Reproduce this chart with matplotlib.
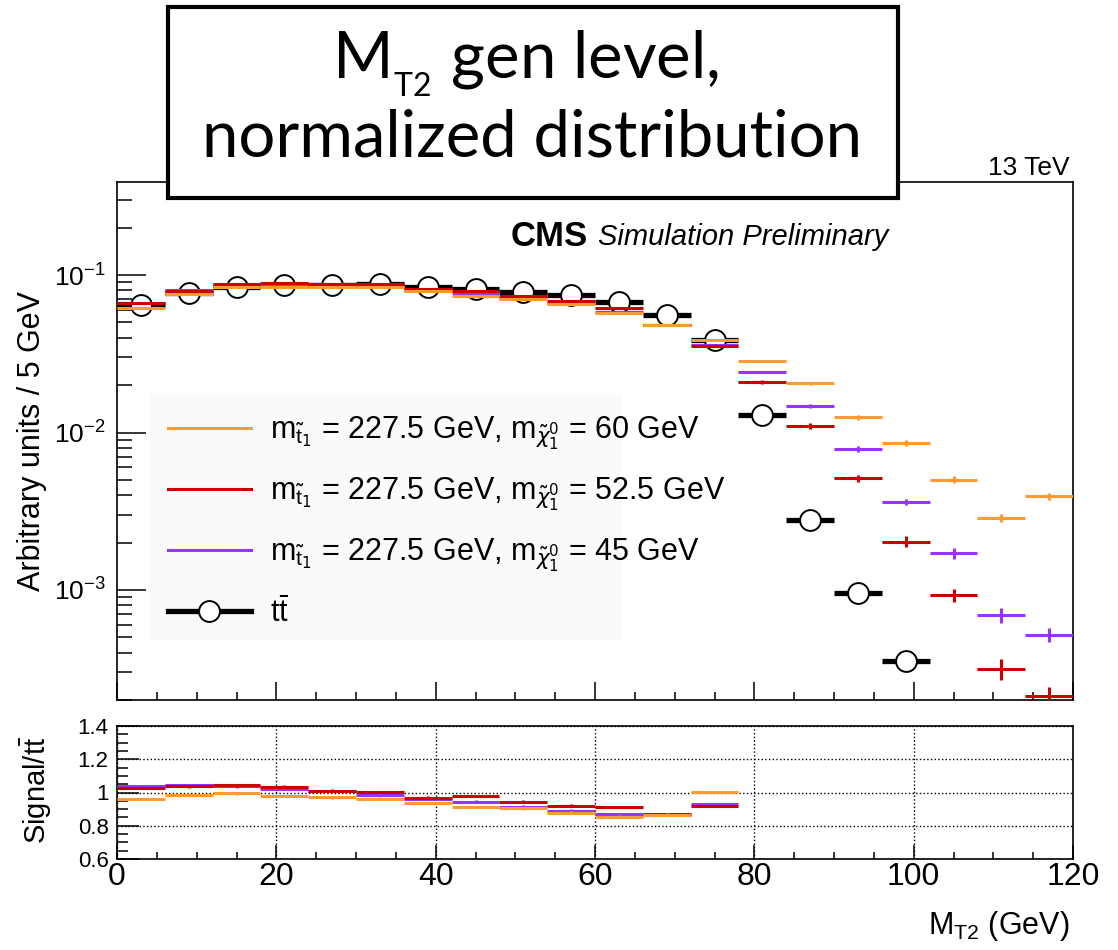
import numpy as np
import matplotlib.pyplot as plt
from matplotlib.lines import Line2D
from matplotlib.patches import Rectangle
from matplotlib.ticker import MultipleLocator, LogLocator, NullFormatter

plt.rcParams['font.family'] = ['Liberation Sans', 'DejaVu Sans']
plt.rcParams['mathtext.fontset'] = 'dejavusans'

# 6 GeV bins from 0 to 120
bin_edges = [0, 6, 12, 18, 24, 30, 36, 42, 48, 54, 60, 66, 72, 78, 84, 90, 96, 102, 108, 114, 120]

# ttbar (only bins with entries in range)
tt_vals = [0.0645, 0.0768, 0.084, 0.0864, 0.087, 0.0877, 0.0843, 0.081, 0.078, 0.0746,
           0.0674, 0.0557, 0.0387, 0.0129, 0.00278, 0.000953, 0.000354]

# signals, m_stop = 227.5 GeV
sig60 = [0.0619, 0.0757, 0.0835, 0.0845, 0.0844, 0.0844, 0.0790, 0.0739, 0.0705, 0.0655,
         0.0576, 0.0482, 0.0389, 0.0285, 0.0205, 0.01247, 0.0086, 0.00501, 0.00288, 0.00394]
sig525 = [0.0664, 0.0796, 0.0876, 0.0894, 0.0880, 0.0881, 0.0816, 0.0792, 0.0737, 0.0686,
          0.0615, 0.0483, 0.0356, 0.0209, 0.0110, 0.00512, 0.00203, 0.000925, 0.000315, 0.000213]
sig45 = [0.0669, 0.0803, 0.0871, 0.0882, 0.0879, 0.0865, 0.0809, 0.0765, 0.0714, 0.0664,
         0.0586, 0.0482, 0.0360, 0.0242, 0.0147, 0.00789, 0.00362, 0.00172, 0.000693, 0.000518]

# relative stat. uncertainties
sig60_rel = [0.01, 0.01, 0.01, 0.01, 0.01, 0.01, 0.01, 0.01, 0.01, 0.01,
             0.01, 0.01, 0.015, 0.02, 0.025, 0.04, 0.04, 0.05, 0.06, 0.05]
sig525_rel = [0.01, 0.01, 0.01, 0.01, 0.01, 0.01, 0.01, 0.01, 0.01, 0.01,
              0.01, 0.015, 0.02, 0.03, 0.04, 0.05, 0.08, 0.09, 0.15, 0.13]
sig45_rel = [0.01, 0.01, 0.01, 0.01, 0.01, 0.01, 0.01, 0.01, 0.01, 0.01,
             0.01, 0.015, 0.02, 0.02, 0.03, 0.04, 0.05, 0.08, 0.11, 0.10]

# ratio signal / ttbar (first 13 bins)
ratio60 = [0.96, 0.986, 0.994, 0.978, 0.97, 0.962, 0.937, 0.912, 0.904, 0.878, 0.855, 0.866, 1.004]
ratio525 = [1.029, 1.037, 1.043, 1.035, 1.012, 1.004, 0.968, 0.978, 0.945, 0.92, 0.912, 0.868, 0.919]
ratio45 = [1.037, 1.045, 1.037, 1.021, 1.01, 0.986, 0.96, 0.945, 0.915, 0.89, 0.87, 0.866, 0.931]
ratio_err = 0.008

c60, c525, c45 = '#ff9933', '#cc0000', '#9933ff'

edges = np.array(bin_edges)
centers = 0.5 * (edges[1:] + edges[:-1])
halfw = 0.5 * np.diff(edges)

W, H = 1118, 950
fig = plt.figure(figsize=(W / 100, H / 100), dpi=100)

def box(l, t, r, b):
    return [l / W, 1 - b / H, (r - l) / W, (b - t) / H]

ax = fig.add_axes(box(117, 182, 1073, 700))
rax = fig.add_axes(box(117, 726, 1073, 859))

# main panel
n = len(tt_vals)
ax.errorbar(centers[:n], tt_vals, xerr=halfw[:n], fmt='o', color='black', elinewidth=3.8,
            ms=15, mfc='white', mec='black', mew=1.4, capsize=0, zorder=2)
for vals, rel, c in [(sig45, sig45_rel, c45), (sig525, sig525_rel, c525), (sig60, sig60_rel, c60)]:
    v = np.array(vals)
    ax.errorbar(centers, v, xerr=halfw, yerr=v * np.array(rel), fmt='none', ecolor=c,
                elinewidth=2.2, capsize=0, zorder=3)

ax.set_yscale('log')
ax.set_xlim(0, 120)
ax.set_ylim(2.0e-4, 0.39)
ax.xaxis.set_major_locator(MultipleLocator(20))
ax.xaxis.set_minor_locator(MultipleLocator(5))
ax.xaxis.set_major_formatter(NullFormatter())
ax.yaxis.set_major_locator(LogLocator(base=10, numticks=10))
ax.yaxis.set_minor_locator(LogLocator(base=10, subs=np.arange(2, 10), numticks=20))
ax.yaxis.set_minor_formatter(NullFormatter())
ax.tick_params(axis='both', which='both', direction='in', top=False, right=False)
ax.tick_params(axis='y', which='major', length=21, width=1.1, labelsize=19, pad=8)
ax.tick_params(axis='y', which='minor', length=11, width=1.1)
ax.tick_params(axis='x', which='major', length=13, width=1.1)
ax.tick_params(axis='x', which='minor', length=6, width=1.1)
for s in ax.spines.values():
    s.set_linewidth(1.2)
ax.set_ylabel('Arbitrary units / 5 GeV', fontsize=22)
ax.yaxis.set_label_coords(-0.073, 0.5)

# faint legend pad (ROOT legend box is narrower than its text)
ax.add_patch(Rectangle((150 / W, 1 - 640 / H), (622 - 150) / W, (640 - 395) / H,
                       transform=fig.transFigure, facecolor='#fafafa', edgecolor='none', zorder=0.5))

handles = [Line2D([], [], color=c60, lw=2.2),
           Line2D([], [], color=c525, lw=2.2),
           Line2D([], [], color=c45, lw=2.2),
           Line2D([], [], color='black', lw=3.8, marker='o', ms=15, mfc='white', mew=1.4)]
labels = [r'$\mathregular{m}_{\tilde{\mathregular{t}}_1}$ = 227.5 GeV, $\mathregular{m}_{\tilde{\chi}^0_1}$ = 60 GeV',
          r'$\mathregular{m}_{\tilde{\mathregular{t}}_1}$ = 227.5 GeV, $\mathregular{m}_{\tilde{\chi}^0_1}$ = 52.5 GeV',
          r'$\mathregular{m}_{\tilde{\mathregular{t}}_1}$ = 227.5 GeV, $\mathregular{m}_{\tilde{\chi}^0_1}$ = 45 GeV',
          r'$\mathregular{t\bar{t}}$']
leg = ax.legend(handles, labels, loc='upper left', bbox_to_anchor=(168 / W, 1 - 415 / H),
                bbox_transform=fig.transFigure, fontsize=22, frameon=False,
                handlelength=2.7, handletextpad=0.65, labelspacing=0.78, borderpad=0,
                borderaxespad=0)

ax.text(0.412, 0.895, 'CMS', transform=ax.transAxes, fontsize=25, fontweight='bold', va='center')
ax.text(0.503, 0.893, 'Simulation Preliminary', transform=ax.transAxes, fontsize=21,
        style='italic', va='center')
fig.text(1070 / W, 1 - 168 / H, '13 TeV', ha='right', va='center', fontsize=19)

# ratio panel
for r, c in [(ratio45, c45), (ratio525, c525), (ratio60, c60)]:
    m = len(r)
    rax.errorbar(centers[:m], r, xerr=halfw[:m], yerr=ratio_err, fmt='none', ecolor=c,
                 elinewidth=2.2, capsize=0, zorder=3)
rax.set_xlim(0, 120)
rax.set_ylim(0.6, 1.4)
rax.xaxis.set_major_locator(MultipleLocator(20))
rax.xaxis.set_minor_locator(MultipleLocator(5))
rax.yaxis.set_minor_locator(MultipleLocator(0.05))
rax.set_yticks([0.6, 0.8, 1.0, 1.2, 1.4])
rax.set_yticklabels(['0.6', '0.8', '1', '1.2', '1.4'])
rax.grid(True, which='major', linestyle=':', color='black', linewidth=1.0)
rax.tick_params(axis='both', which='both', direction='in', top=False, right=False)
rax.tick_params(axis='y', which='major', length=16, width=1.1, labelsize=16, pad=6)
rax.tick_params(axis='y', which='minor', length=8, width=1.1)
rax.tick_params(axis='x', which='major', length=10, width=1.1, labelsize=23, pad=2)
rax.tick_params(axis='x', which='minor', length=5, width=1.1)
for s in rax.spines.values():
    s.set_linewidth(1.2)
rax.set_ylabel(r'Signal/$\mathregular{t\bar{t}}$', fontsize=21)
rax.yaxis.set_label_coords(-0.066, 0.52)
fig.text(1070 / W, 1 - 926 / H, r'M$_{\mathregular{T2}}$ (GeV)', ha='right', va='center', fontsize=22)

# title box drawn on top of the figure
fig.patches.append(Rectangle((168 / W, 1 - 198 / H), (898 - 168) / W, (198 - 7) / H,
                             transform=fig.transFigure, facecolor='white', edgecolor='black',
                             linewidth=3, zorder=10))
fig.text(526 / W, 1 - 64 / H, r'M$_{{}_{\mathregular{T2}}}$ gen level,', ha='center', va='center',
         fontsize=47, family='Lato', zorder=11)
fig.text(532 / W, 1 - 138 / H, 'normalized distribution', ha='center', va='center',
         fontsize=47, family='Lato', zorder=11)

fig.savefig('out.png', dpi=100)
